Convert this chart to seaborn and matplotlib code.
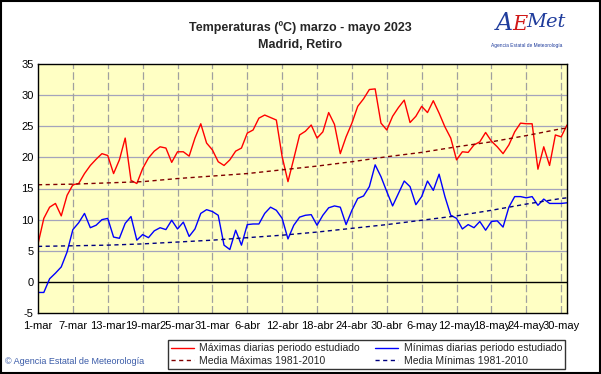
import numpy as np
import pandas as pd
import matplotlib
matplotlib.use('Agg')
import matplotlib.pyplot as plt
import seaborn as sns
from matplotlib.patches import Rectangle

# Datos (ºC), 1-mar a 31-may 2023
dias = pd.date_range('2023-03-01', '2023-05-31', freq='D')

maximas = [6.1, 10.2, 12.0, 12.6, 10.6, 13.9, 15.6, 15.8, 17.4, 18.7,
           19.7, 20.6, 20.3, 17.4, 19.6, 23.1, 16.3, 15.8, 18.2, 19.9,
           21.0, 21.7, 21.5, 19.2, 20.9, 20.9, 20.2, 23.1, 25.4, 22.3,
           21.2, 19.3, 18.7, 19.6, 21.0, 21.5, 23.9, 24.4, 26.3, 26.8,
           26.4, 26.0, 20.1, 16.1, 19.8, 23.6, 24.2, 25.2, 23.1, 24.1,
           27.2, 25.3, 20.6, 23.3, 25.5, 28.2, 29.4, 30.9, 31.0, 25.5,
           24.4, 26.6, 28.0, 29.2, 25.6, 26.6, 28.2, 27.2, 29.1, 27.1,
           24.9, 23.1, 19.6, 20.9, 20.8, 22.0, 22.5, 24.0, 22.6, 21.7,
           20.6, 22.0, 24.1, 25.5, 25.4, 25.4, 18.1, 21.7, 18.7, 23.6,
           23.3, 25.2]

minimas = [-1.7, -1.7, 0.5, 1.4, 2.4, 4.8, 8.4, 9.5, 11.0, 8.7,
           9.1, 10.0, 10.2, 7.2, 7.0, 9.4, 10.5, 6.7, 7.6, 7.1,
           8.2, 8.7, 8.4, 9.9, 8.5, 9.6, 7.3, 8.5, 11.0, 11.6,
           11.3, 10.7, 5.9, 5.2, 8.3, 5.9, 9.2, 9.3, 9.3, 11.0,
           12.0, 11.5, 10.2, 6.9, 9.1, 10.4, 10.7, 10.8, 9.1, 10.7,
           11.9, 12.2, 12.0, 9.2, 11.5, 13.4, 13.8, 15.3, 18.8, 16.9,
           14.5, 12.2, 14.2, 16.2, 15.3, 12.4, 13.7, 16.2, 14.7, 17.3,
           13.7, 10.7, 10.2, 8.5, 9.2, 8.7, 9.7, 8.3, 9.7, 9.8,
           8.8, 12.0, 13.7, 13.7, 13.5, 13.7, 12.3, 13.3, 12.6, 12.6,
           12.6, 12.7]

# Medias 1981-2010 leídas cada 6 días
fechas_media = ['2023-03-01', '2023-03-07', '2023-03-13', '2023-03-19',
                '2023-03-25', '2023-03-31', '2023-04-06', '2023-04-12',
                '2023-04-18', '2023-04-24', '2023-04-30', '2023-05-06',
                '2023-05-12', '2023-05-18', '2023-05-24', '2023-05-30',
                '2023-05-31']
media_maximas = [15.6, 15.7, 15.9, 16.1, 16.6, 17.0, 17.4, 18.0, 18.6,
                 19.3, 20.1, 20.8, 21.7, 22.5, 23.5, 24.6, 24.7]
media_minimas = [5.7, 5.8, 5.9, 6.1, 6.4, 6.7, 7.1, 7.5, 8.0, 8.6,
                 9.2, 9.9, 10.6, 11.5, 12.5, 13.4, 13.5]

etiquetas_x = ['1-mar', '7-mar', '13-mar', '19-mar', '25-mar', '31-mar',
               '6-abr', '12-abr', '18-abr', '24-abr', '30-abr', '6-may',
               '12-may', '18-may', '24-may', '30-may']
ticks_y = [-5, 0, 5, 10, 15, 20, 25, 30, 35]

df = pd.DataFrame({'fecha': dias, 'max': maximas, 'min': minimas})
df_media = pd.DataFrame({'fecha': pd.to_datetime(fechas_media),
                         'mmax': media_maximas, 'mmin': media_minimas})

sns.set_style('white')
plt.rcParams['font.family'] = ['Liberation Sans', 'DejaVu Sans']
plt.rcParams['axes.unicode_minus'] = False

fig = plt.figure(figsize=(6.01, 3.74), dpi=100)
ax = fig.add_axes([38 / 601, 1 - 313 / 374, 529 / 601, 249 / 374])
ax.set_facecolor('#FFFFC4')

sns.lineplot(data=df, x='fecha', y='max', color='#FF0000', lw=1.0, ax=ax,
             label='Máximas diarias periodo estudiado')
sns.lineplot(data=df_media, x='fecha', y='mmax', color='#800000', lw=1.0, ax=ax,
             label='Media Máximas 1981-2010')
sns.lineplot(data=df, x='fecha', y='min', color='#0000FF', lw=1.0, ax=ax,
             label='Mínimas diarias periodo estudiado')
sns.lineplot(data=df_media, x='fecha', y='mmin', color='#000080', lw=1.0, ax=ax,
             label='Media Mínimas 1981-2010')
for ln in ax.get_lines()[1::2]:
    ln.set_dashes((3, 2.5))

ax.set_xlim(dias[0], dias[-1])
ax.set_ylim(-5, 35)
ax.set_yticks(ticks_y)
ax.set_xticks(dias[::6])
ax.set_xticklabels(etiquetas_x)
ax.tick_params(length=0, labelsize=8, colors='black', pad=3)
ax.tick_params(axis='x', pad=6)
ax.set_xlabel('')
ax.set_ylabel('')

# rejilla
for y in ticks_y[1:-1]:
    if y != 0:
        ax.axhline(y, color='#A4A4BC', lw=0.9, zorder=0)
ax.axhline(0, color='black', lw=1.0, zorder=1)
for d in dias[6::6]:
    ax.axvline(d, color='#A0A0A0', lw=0.9, ls=(0, (6, 2.5)), zorder=0)
for sp in ax.spines.values():
    sp.set_color('black')
    sp.set_linewidth(1.0)

handles, labels = ax.get_legend_handles_labels()
ax.get_legend().remove()
leg = fig.legend(handles, labels, ncol=2, mode='expand', loc='lower left',
                 bbox_to_anchor=(168 / 601, 5 / 374, 397 / 601, 33 / 374),
                 fontsize=7.5, frameon=True, fancybox=False, edgecolor='black',
                 handlelength=2.2, handletextpad=0.5, borderpad=0.3,
                 labelspacing=0.25, borderaxespad=0)
leg.get_frame().set_linewidth(1.0)
for h in leg.get_lines():
    h.set_linewidth(1.0)

fig.text(0.5, 1 - 28 / 374, 'Temperaturas (ºC) marzo - mayo 2023', ha='center',
         va='center', fontsize=9, fontweight='bold')
fig.text(0.5, 1 - 45 / 374, 'Madrid, Retiro', ha='center', va='center',
         fontsize=9, fontweight='bold')

# pie y logotipo
fig.text(5 / 601, 1 - 361 / 374, '© Agencia Estatal de Meteorología',
         color='#3A5BA8', fontsize=6.5, va='center', ha='left')
fig.text(496 / 601, 1 - 24 / 374, 'A', color='#1F3C9C', fontsize=17,
         style='italic', va='center', ha='left', family='DejaVu Serif')
fig.text(512 / 601, 1 - 25 / 374, 'E', color='#D01818', fontsize=15,
         style='italic', va='center', ha='left', family='DejaVu Serif')
fig.text(526 / 601, 1 - 22 / 374, 'Met', color='#1F3C9C', fontsize=14,
         style='italic', va='center', ha='left', family='DejaVu Serif')
fig.text(527 / 601, 1 - 45 / 374, 'Agencia Estatal de Meteorología',
         color='#1F3C9C', fontsize=3.5, va='center', ha='center')

fig.patches.append(Rectangle((0.001, 0.002), 0.997, 0.995, fill=False,
                             edgecolor='black', lw=1.5,
                             transform=fig.transFigure, figure=fig))

fig.savefig('out.png', dpi=100)
